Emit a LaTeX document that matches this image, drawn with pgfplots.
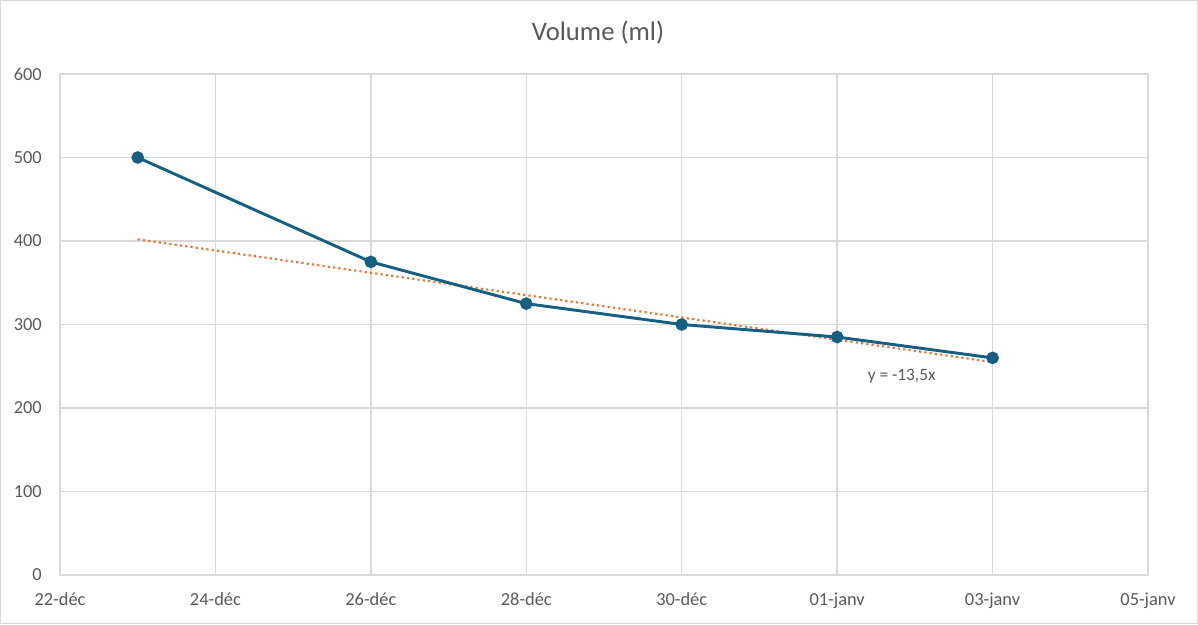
\documentclass[border=0pt]{standalone}
\usepackage{fontspec}
\setmainfont{Carlito}
\usepackage{pgfplots}
\pgfplotsset{compat=1.18}
\definecolor{gridc}{HTML}{D9D9D9}
\definecolor{txt}{HTML}{595959}
\definecolor{linec}{HTML}{156082}
\definecolor{trend}{HTML}{E97132}
\begin{document}
\begin{tikzpicture}
\useasboundingbox (-45pt,-36.75pt) rectangle (853.5pt,431.25pt);
\draw[gridc, line width=1pt] (-44.5pt,-36.25pt) rectangle (853pt,430.75pt);
\begin{axis}[at={(0,0)}, anchor=south west, scale only axis,
  width=816pt, height=375.75pt,
  xmin=0, xmax=14, ymin=0, ymax=600,
  xtick={0,2,...,14},
  xticklabels={22-déc,24-déc,26-déc,28-déc,30-déc,01-janv,03-janv,05-janv},
  ytick={0,100,...,600},
  grid=major, major grid style={gridc, line width=1pt},
  axis line style={gridc, line width=1pt},
  major tick length=0pt,
  tick label style={txt, font=\fontsize{13.8}{16}\selectfont},
  yticklabel style={anchor=east, inner sep=0pt, xshift=-13.5pt},
  xticklabel style={anchor=base, inner sep=0pt, yshift=-22.5pt},
  /pgf/number format/assume math mode=true,
  clip=false]
\addplot[trend, line width=1.6pt, dash pattern=on 1.6pt off 2.4pt] coordinates {(1,402) (12,255)};
\addplot[linec, line width=2.2pt, mark=*, mark size=3.6pt, mark options={solid, fill=linec}] coordinates {
(1,500) (4,375) (6,325) (8,300) (10,285) (12,260)};
\node[txt, font=\fontsize{13}{15}\selectfont] at (axis cs:10.83,238) {y = -13,5x};
\end{axis}
\node[txt, font=\fontsize{20}{24}\selectfont] at (403.5pt,406.5pt) {Volume (ml)};
\end{tikzpicture}
\end{document}
